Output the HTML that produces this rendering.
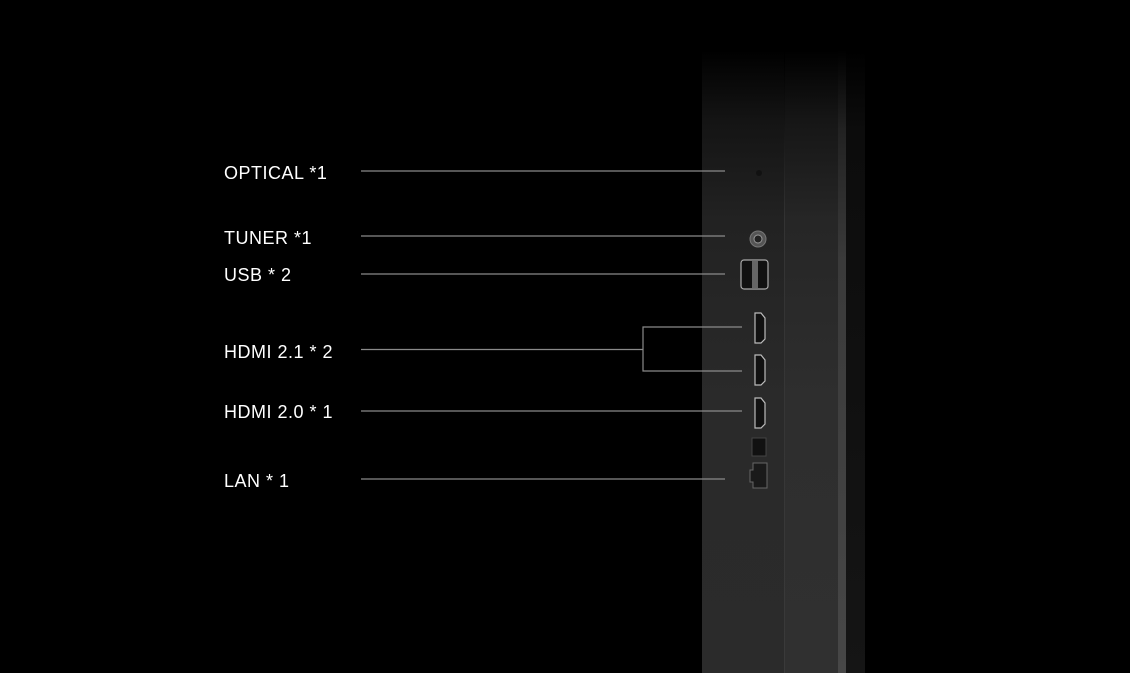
<!DOCTYPE html>
<html><head><meta charset="utf-8"><style>
html,body{margin:0;padding:0;background:#000;}
body{width:1130px;height:673px;position:relative;overflow:hidden;font-family:"Liberation Sans",sans-serif;}
.lbl{position:absolute;left:224px;color:#fff;font-size:18px;line-height:20px;white-space:nowrap;letter-spacing:0.5px;}
.p{position:absolute;}
</style></head><body>
<div class="p" style="left:702px;top:0;width:83px;height:673px;background:linear-gradient(#000 50px,#141414 120px,#222 220px,#2a2a2a 400px,#2b2b2b 673px);"></div>
<div class="p" style="left:785px;top:0;width:53px;height:673px;background:linear-gradient(#000 50px,#161616 120px,#262626 220px,#2e2e2e 400px,#303030 673px);"></div>
<div class="p" style="left:838px;top:0;width:8px;height:673px;background:linear-gradient(#000 50px,#222 130px,#3a3a3a 260px,#474747 673px);"></div>
<div class="p" style="left:846px;top:0;width:19px;height:673px;background:linear-gradient(#000 50px,#0c0c0c 130px,#151515 673px);"></div>
<div class="p" style="left:784px;top:0;width:1px;height:673px;background:linear-gradient(#000 60px,#333 220px,#3a3a3a 673px);"></div>

<div class="lbl" style="top:163px">OPTICAL *1</div>
<div class="lbl" style="top:228px">TUNER *1</div>
<div class="lbl" style="top:265px">USB * 2</div>
<div class="lbl" style="top:342px">HDMI 2.1 * 2</div>
<div class="lbl" style="top:402px">HDMI 2.0 * 1</div>
<div class="lbl" style="top:471px">LAN * 1</div>

<svg class="p" style="left:0;top:0" width="1130" height="673">
<g stroke="#8a8a8a" stroke-width="1.2" fill="none">
<line x1="361" y1="171" x2="725" y2="171"/>
<line x1="361" y1="236" x2="725" y2="236"/>
<line x1="361" y1="274" x2="725" y2="274"/>
<line x1="361" y1="349.5" x2="643" y2="349.5"/>
<polyline points="742,327 643,327 643,371 742,371"/>
<line x1="361" y1="411" x2="742" y2="411"/>
<line x1="361" y1="479" x2="725" y2="479"/>
</g>
<circle cx="759" cy="173" r="3" fill="#111"/>
<circle cx="758" cy="239" r="8" fill="#555" stroke="#777"/>
<circle cx="758" cy="239" r="4" fill="#222" stroke="#999"/>
<rect x="741" y="260" width="27" height="29" rx="3" fill="#111" stroke="#aaa" stroke-width="1.2"/>
<rect x="752" y="261" width="6" height="27" fill="#666"/>
<g fill="#111" stroke="#bbb" stroke-width="1.2">
<path d="M755,313 h6 l4,5 v21 l-4,4 h-6 z"/>
<path d="M755,355 h6 l4,5 v21 l-4,4 h-6 z"/>
<path d="M755,398 h6 l4,5 v21 l-4,4 h-6 z"/>
</g>
<rect x="752" y="438" width="14" height="18" fill="#111" stroke="#444"/>
<path d="M753,463 h14 v25 h-14 v-6 h-3 v-12 h3 z" fill="#1a1a1a" stroke="#666"/>
</svg>
</body></html>
